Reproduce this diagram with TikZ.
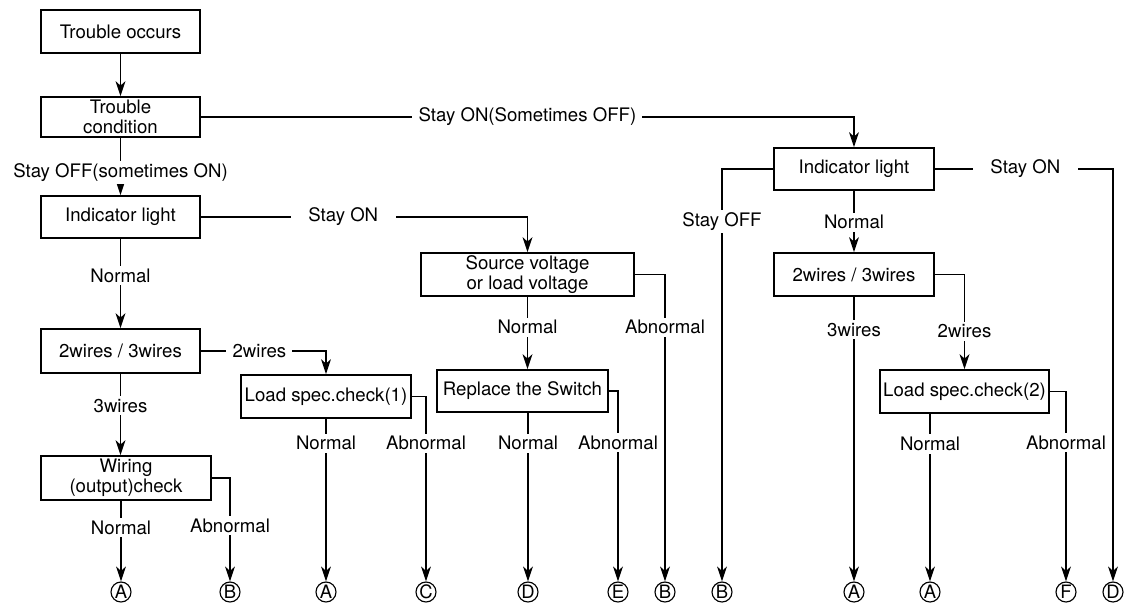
\documentclass[tikz,border=0pt]{standalone}
\usepackage{fontspec}
\setmainfont{TeX Gyre Heros}
\usetikzlibrary{arrows.meta}

\begin{document}
\begin{tikzpicture}[x=0.02cm, y=-0.02cm, >={Stealth[length=8.5pt, width=5.6pt, inset=2.5pt]},
	line width=0.85pt, font=\fontsize{10.6}{11.2}\selectfont,
	box/.style={draw, line width=1pt, align=center, inner sep=0pt},
	lbl/.style={fill=white, inner xsep=3.5pt, inner ysep=1.5pt},
	widelbl/.style={lbl, inner xsep=10pt},
	endpt/.style={circle, draw, line width=0.65pt, inner sep=0pt, minimum size=0.4cm,
		font=\fontsize{10.5}{10.5}\selectfont}]
	
	\useasboundingbox (0,0) rectangle (1125,610);
	
	% ===== Left column =====
	\node[box, minimum width=3.18cm, minimum height=0.86cm] (occur) at (120.5,31.5) {Trouble occurs};
	\node[box, minimum width=3.18cm, minimum height=0.80cm] (cond) at (120.5,117) {Trouble\\condition};
	\node[box, minimum width=3.18cm, minimum height=0.84cm] (indL) at (120.5,217) {Indicator light};
	\node[box, minimum width=3.18cm, minimum height=0.88cm] (wiresL) at (120.5,351) {2wires / 3wires};
	\node[box, minimum width=3.40cm, minimum height=0.88cm] (wiring) at (126,478) {Wiring\\(output)check};
	\node[box, minimum width=3.40cm, minimum height=0.86cm] (spec1) at (326,396.5) {Load spec.check(1)};
	
	% ===== Middle: voltage check =====
	\node[box, minimum width=4.26cm, minimum height=0.86cm] (src) at (527.5,274.5) {Source voltage\\or load voltage};
	\node[box, minimum width=3.42cm, minimum height=0.84cm] (repl) at (522.5,391) {Replace the Switch};
	
	% ===== Right column =====
	\node[box, minimum width=3.20cm, minimum height=0.84cm] (indR) at (854,169) {Indicator light};
	\node[box, minimum width=3.20cm, minimum height=0.86cm] (wiresR) at (854,274.5) {2wires / 3wires};
	\node[box, minimum width=3.38cm, minimum height=0.86cm] (spec2) at (964.5,391.5) {Load spec.check(2)};
	
	% end marks
	\node[endpt] (a1) at (121,592) {A};
	\node[endpt] (b1) at (230,592) {B};
	\node[endpt] (a2) at (326,592) {A};
	\node[endpt] (c1) at (426,592) {C};
	\node[endpt] (d1) at (528,592) {D};
	\node[endpt] (e1) at (618,592) {E};
	\node[endpt] (b2) at (665,592) {B};
	\node[endpt] (b3) at (722,592) {B};
	\node[endpt] (a3) at (854,592) {A};
	\node[endpt] (a4) at (930,592) {A};
	\node[endpt] (f1) at (1066,592) {F};
	\node[endpt] (d2) at (1113,592) {D};
	
	% ===== Connectors =====
	\draw[->] (occur) -- (cond);
	\draw[->] (cond) -- (indL) node[lbl, pos=0.6] {Stay OFF(sometimes ON)};
	\draw[->] (cond.east) -| (indR.north) node[lbl, pos=0.25] {Stay ON(Sometimes OFF)};
	\draw[->] (indL.east) -| (src.north) node[widelbl, pos=0.218] {Stay ON};
	\draw[->] (indL) -- (wiresL) node[lbl, pos=0.41] {Normal};
	\draw[->] (wiresL.east) -| (spec1.north) node[lbl, pos=0.234] {2wires};
	\draw[->] (wiresL) -- (wiresL |- wiring.north) node[lbl, pos=0.39] {3wires};
	\draw[->] (wiring.south -| a1) -- (a1) node[lbl, pos=0.33] {Normal};
	\draw[->] (wiring.east) -| (b1) node[lbl, pos=0.73] {Abnormal};
	\draw[->] (spec1) -- (a2) node[lbl, pos=0.15] {Normal};
	\draw[->] (spec1.east) -| (c1) node[lbl, pos=0.626] {Abnormal};
	\draw[->] (src.south) -- (src.south |- repl.north) node[lbl, pos=0.42] {Normal};
	\draw[->] (repl.south -| d1) -- (d1) node[lbl, pos=0.18] {Normal};
	\draw[->] (repl.east) -| (e1) node[lbl, pos=0.635] {Abnormal};
	\draw[->] (src.east) -| (b2) node[lbl, pos=0.586] {Abnormal};
	\draw[->] (indR.west) -| (b3) node[lbl, pos=0.564] {Stay OFF};
	\draw[->] (indR) -- (wiresR) node[lbl, pos=0.51] {Normal};
	\draw[->] (wiresR) -- (a3) node[lbl, pos=0.115] {3wires};
	\draw[->] (wiresR.east) -| (spec2.north) node[lbl, pos=0.8] {2wires};
	\draw[->] (spec2.south -| a4) -- (a4) node[lbl, pos=0.18] {Normal};
	\draw[->] (spec2.east) -| (f1) node[lbl, pos=0.635] {Abnormal};
	\draw[->] (indR.east) -| (d2) node[widelbl, pos=0.254] {Stay ON};
	
\end{tikzpicture}
\end{document}
